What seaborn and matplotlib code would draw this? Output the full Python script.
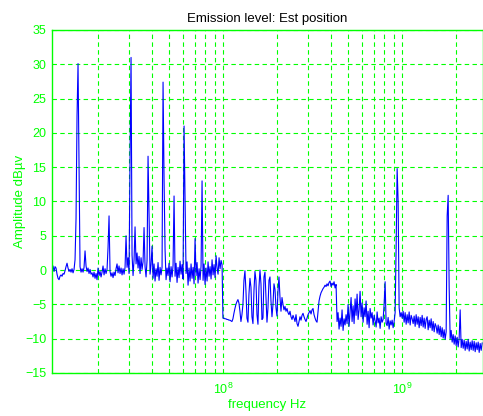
import matplotlib
matplotlib.use("Agg")
import matplotlib.pyplot as plt
import matplotlib.ticker as mticker
import numpy as np
import pandas as pd
import seaborn as sns

# sweep bands (Hz): start, stop
band_low = (11.13e6, 99.1e6)
band_mid = (100.2e6, 1004e6)
band_high = (1017e6, 2810e6)

# levels (dBuV), one value per screen column
level_low = [
    0.2, 0.6, -0.2, 0.5, 0.3, -0.6, -1.2, -1.4, -0.9, -0.7,
    -0.9, -0.5, -0.6, -0.1, 0.5, 1.0, 0.3, -0.2, 0.1, -0.3,
    0.2, -0.4, 0.1, 1.5, 7.5, 22.5, 30.1, 14.5, 0.5, -0.3,
    0.2, -0.3, 0.4, 2.8, 0.6, -0.2, 0.3, -0.5, 0.1, -0.6,
    -0.4, -1.0, -0.3, -1.2, -0.5, -1.4, 0.3, -0.8, -0.2, -1.0,
    -0.3, 0.6, -0.7, 0.2, -0.5, 0.1, 3.3, 7.9, -0.2, -0.9,
    -0.4, -1.1, -0.3, -0.8, 0.2, 0.9, -0.4, 0.6, -0.5, 0.3,
    -0.7, 0.2, -0.6, 0.4, 5.0, 0.4, 1.8, -0.5, 16.3, 31.0,
    2.2, -0.8, 1.5, 6.3, 0.9, 2.5, 0.3, 2.0, -0.5, 1.8,
    0.1, 1.2, 6.2, 0.5, -1.0, 1.4, 16.6, 7.7, -0.6, 0.8,
    3.5, -1.2, 0.9, -1.6, 0.2, -0.9, 1.1, -1.5, 0.4, -0.7,
    0.4, 27.4, 13.2, 3.0, -1.4, 0.3, -0.8, 1.0, -1.7, 0.5,
    -1.0, 0.7, 10.8, -0.9, 1.0, -1.8, 0.4, -1.1, 1.3, -0.6,
    0.8, -1.3, 21.0, 10.0, -0.5, 1.2, -2.2, 0.3, -1.6, 0.9,
    -1.2, 0.4, -2.0, 4.6, -0.8, 1.1, -1.9, 0.2, -1.4, 0.6,
    13.0, -1.5, 0.9, -2.1, 0.3, -1.6, 1.2, -0.9, 0.5, -1.3,
    1.5, -0.7, 0.8, -1.1, 2.1, 0.3, -0.6, 1.8, 0.2, 1.4,
    0.8,
]
level_mid = [
    -7.0, -7.0, -7.1, -7.1, -7.2, -7.2, -7.3, -7.3, -7.4, -7.5,
    -7.1, -6.3, -5.6, -5.0, -4.6, -4.3, -4.8, -6.0, -7.5, -6.5,
    -5.0, -1.5, -0.1, -3.0, -7.0, -7.6, -3.5, -1.2, -2.5, -6.8,
    -7.8, -3.0, -0.2, -1.5, -6.5, -7.9, -2.5, 0.0, -2.0, -7.2,
    -7.0, -1.0, -0.3, -4.0, -7.6, -5.5, -1.5, -1.0, -4.5, -6.8,
    -5.0, -2.0, -2.8, -5.5, -6.7, -3.0, -1.0, -4.0, -6.0, -4.0,
    -5.0, -5.8, -5.3, -6.0, -5.6, -6.2, -6.5, -6.0, -6.8, -7.2,
    -6.6, -7.0, -7.5, -6.5, -7.8, -8.2, -7.5, -6.8, -7.3, -6.6,
    -6.3, -6.8, -7.2, -7.5, -7.0, -6.5, -6.2, -5.9, -6.4, -5.8,
    -5.6, -6.5, -7.0, -7.4, -7.6, -6.0, -4.5, -3.8, -3.3, -3.0,
    -2.7, -2.5, -2.2, -2.4, -2.0, -2.3, -1.8, -1.6, -2.4, -1.9,
    -2.2, -1.7, -2.6, -2.1, -7.5, -6.2, -8.6, -7.0, -8.2, -5.8,
    -8.8, -7.1, -8.0, -6.5, -7.8, -5.0, -8.2, -6.0, -4.0, -7.5,
    -5.2, -7.8, -4.2, -6.6, -3.5, -7.2, -5.8, -3.1, -6.8, -4.8,
    -7.6, -5.5, -6.8, -4.5, -7.9, -6.0, -8.4, -5.6, -7.0, -6.2,
    -8.0, -6.6, -7.4, -8.3, -6.1, -7.7, -7.0, -8.5, -6.8, -7.6,
    -7.2, -5.0, -1.7, -7.8, -8.1, -6.9, -8.6, -7.4, -8.0, -7.3,
    -8.4, -7.5, -6.2, 3.3, 14.8, 10.0, -5.5, -6.8, -6.2, -7.0,
]
level_high = [
    -6.0, -7.6, -6.2, -7.9, -6.5, -7.7, -6.1, -8.0, -6.6, -7.1,
    -7.8, -6.7, -8.2, -6.5, -7.9, -6.8, -8.4, -6.9, -8.1, -6.6,
    -8.3, -7.0, -8.5, -7.2, -6.8, -8.7, -7.3, -8.4, -7.1, -8.8,
    -7.5, -9.0, -7.8, -8.2, -9.2, -8.0, -9.4, -8.2, -9.7, -8.4,
    -9.9, -8.7, -10.1, -9.0, 7.9, 10.9, -2.5, -10.0, -8.8, -10.5,
    -9.4, -10.8, -9.6, -11.0, -9.8, -11.2, -9.9, -5.8, -11.3, -10.1,
    -11.4, -10.2, -11.7, -10.4, -11.5, -10.1, -11.8, -10.5, -11.6, -10.3,
    -11.7, -10.4, -11.9, -10.6, -11.6, -10.5, -12.0, -10.7, -11.7, -10.6,
]

y_ticks = [-15, -10, -5, 0, 5, 10, 15, 20, 25, 30, 35]

frames = []
for band, levels in [(band_low, level_low), (band_mid, level_mid), (band_high, level_high)]:
    frames.append(pd.DataFrame({
        "freq": np.geomspace(band[0], band[1], len(levels)),
        "level": levels,
    }))
df = pd.concat(frames, ignore_index=True)

sns.set_style("white")
plt.rcParams["font.family"] = ["Liberation Sans", "DejaVu Sans"]

green = "#00ff00"
fig = plt.figure(figsize=(4.83, 4.16), dpi=100)
ax = fig.add_axes([0.107, 0.1034, 0.893, 0.8245])

sns.lineplot(data=df, x="freq", y="level", ax=ax, color="#0000ff",
             linewidth=0.8, estimator=None, sort=False)

ax.set_xscale("log")
ax.set_xlim(11.08e6, 2.84e9)
ax.set_ylim(-15, 35)
ax.set_yticks(y_ticks)
ax.xaxis.set_major_locator(mticker.LogLocator(base=10))
ax.xaxis.set_minor_locator(mticker.LogLocator(base=10, subs=np.arange(2, 10)))
ax.xaxis.set_minor_formatter(mticker.NullFormatter())

ax.grid(True, which="major", axis="both", color=green, linestyle=(0, (4, 3)), linewidth=0.8)
ax.grid(True, which="minor", axis="x", color=green, linestyle=(0, (4, 3)), linewidth=0.8)
ax.set_axisbelow(True)

for side in ["left", "bottom", "top", "right"]:
    ax.spines[side].set_color(green)
    ax.spines[side].set_linewidth(1.0)

ax.tick_params(axis="both", which="both", colors=green, labelcolor=green,
               direction="in", labelsize=9)
ax.tick_params(axis="both", which="major", length=4)
ax.tick_params(axis="x", which="minor", length=2)
ax.tick_params(axis="x", pad=6)
ax.tick_params(axis="y", pad=4)

ax.set_title("Emission level: Est position", fontsize=9.5, color="black", pad=6)
ax.set_xlabel("frequency Hz", fontsize=9.5, color=green, labelpad=2)
ax.set_ylabel("Amplitude dBµv", fontsize=9.5, color=green, labelpad=-1)

fig.savefig("out.png", dpi=100, facecolor="white")
